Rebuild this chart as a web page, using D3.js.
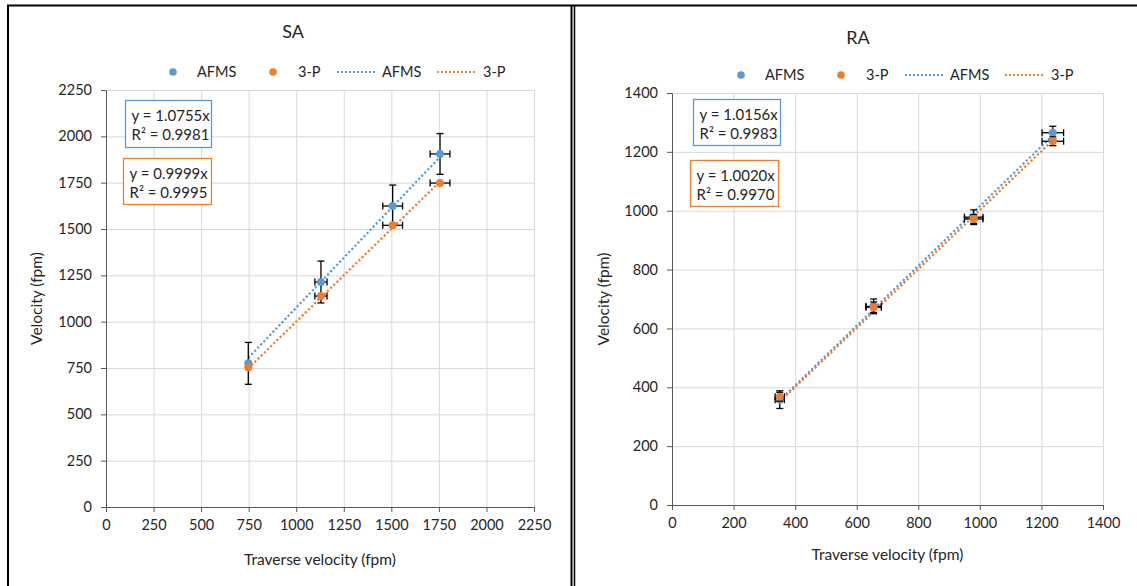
<!DOCTYPE html>
<html>
<head>
<meta charset="utf-8">
<script src="https://cdn.jsdelivr.net/npm/d3@7"></script>
<style>
  body { margin: 0; background: #fff; }
  svg { display: block; font-family: Lato, "Open Sans", sans-serif; }
</style>
</head>
<body>
<svg id="chart"></svg>
<script>
var width = 1137;
var height = 586;

// SA panel data
var saTicks = [0, 250, 500, 750, 1000, 1250, 1500, 1750, 2000, 2250];
var saX = [748, 1130, 1507, 1756];
var saXErr = [5, 32, 52, 52];
var saAfms = [775, 1214, 1624, 1905];
var saAfmsErr = [113, 113, 113, 110];
var sa3p = [754, 1138, 1520, 1748];
var sa3pErr = [0, 0, 0, 0];
var saSlopes = [1.0755, 0.9999];
var saR2 = [0.9981, 0.9995];

// RA panel data
var raTicks = [0, 200, 400, 600, 800, 1000, 1200, 1400];
var raX = [350, 655, 980, 1237];
var raXErr = [15, 25, 30, 35];
var raAfms = [358, 675, 978, 1265];
var raAfmsErr = [30, 25, 25, 22];
var ra3p = [368, 672, 972, 1236];
var ra3pErr = [15, 18, 15, 15];
var raSlopes = [1.0156, 1.0020];
var raR2 = [0.9983, 0.9970];

var blue = "#5B9BD5";
var orange = "#ED7D31";
var textColor = "#262626";

var svg = d3.select("#chart")
    .attr("width", width)
    .attr("height", height);

svg.append("rect")
    .attr("width", width)
    .attr("height", height)
    .attr("fill", "#fff");

// panel frames
svg.append("line").attr("x1", 7).attr("x2", width).attr("y1", 5.5).attr("y2", 5.5)
    .attr("stroke", "#000").attr("stroke-width", 2);
svg.append("line").attr("x1", 8).attr("x2", 8).attr("y1", 5).attr("y2", height)
    .attr("stroke", "#000").attr("stroke-width", 2);
svg.append("line").attr("x1", 571.5).attr("x2", 571.5).attr("y1", 5).attr("y2", height)
    .attr("stroke", "#000").attr("stroke-width", 2);
svg.append("line").attr("x1", 574.5).attr("x2", 574.5).attr("y1", 5).attr("y2", height)
    .attr("stroke", "#000").attr("stroke-width", 1.5);

function drawChart(c) {
    var g = svg.append("g");

    var xScale = d3.scaleLinear()
        .domain([0, c.ticks[c.ticks.length - 1]])
        .range([c.left, c.right]);
    var yScale = d3.scaleLinear()
        .domain([0, c.ticks[c.ticks.length - 1]])
        .range([c.bottom, c.top]);

    // grid
    g.append("g")
        .attr("transform", "translate(0," + c.bottom + ")")
        .call(d3.axisBottom(xScale).tickValues(c.ticks).tickSize(-(c.bottom - c.top)).tickFormat(""))
        .call(s => s.select(".domain").remove())
        .selectAll("line").attr("stroke", "#d9d9d9");
    g.append("g")
        .attr("transform", "translate(" + c.left + ",0)")
        .call(d3.axisLeft(yScale).tickValues(c.ticks).tickSize(-(c.right - c.left)).tickFormat(""))
        .call(s => s.select(".domain").remove())
        .selectAll("line").attr("stroke", "#d9d9d9");

    // axes
    var fmt = d3.format("d");
    var xAxis = g.append("g")
        .attr("transform", "translate(0," + c.bottom + ")")
        .call(d3.axisBottom(xScale).tickValues(c.ticks).tickFormat(fmt).tickSize(5).tickSizeOuter(0).tickPadding(8));
    var yAxis = g.append("g")
        .attr("transform", "translate(" + c.left + ",0)")
        .call(d3.axisLeft(yScale).tickValues(c.ticks).tickFormat(fmt).tickSize(5).tickSizeOuter(0).tickPadding(9));
    [xAxis, yAxis].forEach(function(a) {
        a.select(".domain").attr("stroke", "#595959");
        a.selectAll(".tick line").attr("stroke", "#595959");
        a.selectAll("text")
            .attr("fill", textColor)
            .style("font-size", "14.5px")
            .style("font-family", "Lato, sans-serif");
    });

    // titles
    g.append("text")
        .attr("x", c.titleX).attr("y", c.titleY)
        .attr("text-anchor", "middle")
        .attr("fill", textColor)
        .style("font-size", "18px")
        .text(c.title);
    g.append("text")
        .attr("x", (c.left + c.right) / 2).attr("y", c.xTitleY)
        .attr("text-anchor", "middle")
        .attr("fill", textColor)
        .style("font-size", "15.5px")
        .text("Traverse velocity (fpm)");
    g.append("text")
        .attr("transform", "rotate(-90)")
        .attr("x", -(c.top + c.bottom) / 2).attr("y", c.yTitleX)
        .attr("text-anchor", "middle")
        .attr("fill", textColor)
        .style("font-size", "15.5px")
        .text("Velocity (fpm)");

    // legend
    var lg = g.append("g").attr("transform", "translate(" + c.legendX + "," + c.legendY + ")");
    var items = [
        {type: "dot", color: blue, label: "AFMS", x: 0, tx: 24},
        {type: "dot", color: orange, label: "3-P", x: 100, tx: 125},
        {type: "line", color: blue, label: "AFMS", x: 164, tx: 209},
        {type: "line", color: orange, label: "3-P", x: 264, tx: 310}
    ];
    items.forEach(function(it) {
        if (it.type === "dot") {
            lg.append("circle").attr("cx", it.x).attr("cy", 0).attr("r", 3.8).attr("fill", it.color);
        } else {
            lg.append("line").attr("x1", it.x).attr("x2", it.x + 38).attr("y1", 0).attr("y2", 0)
                .attr("stroke", it.color).attr("stroke-width", 2).attr("stroke-dasharray", "2 2");
        }
        lg.append("text").attr("x", it.tx).attr("y", 5)
            .attr("fill", textColor).style("font-size", "14.5px").text(it.label);
    });

    // trendlines (fit through origin, drawn over data range)
    var xMin = d3.min(c.x), xMax = d3.max(c.x);
    var series = [
        {y: c.afms, yErr: c.afmsErr, color: blue, slope: c.slopes[0]},
        {y: c.threeP, yErr: c.threePErr, color: orange, slope: c.slopes[1]}
    ];
    series.forEach(function(s) {
        g.append("line")
            .attr("x1", xScale(xMin)).attr("y1", yScale(s.slope * xMin))
            .attr("x2", xScale(xMax)).attr("y2", yScale(s.slope * xMax))
            .attr("stroke", s.color).attr("stroke-width", 2.2)
            .attr("stroke-dasharray", "2.2 2.2");
    });

    // error bars + points
    var cap = 3.5;
    series.forEach(function(s) {
        var eb = g.append("g").attr("stroke", "#000").attr("stroke-width", 1.3);
        c.x.forEach(function(xv, i) {
            var px = xScale(xv), py = yScale(s.y[i]);
            if (s.yErr[i] > 0) {
                var y1 = yScale(s.y[i] + s.yErr[i]), y2 = yScale(s.y[i] - s.yErr[i]);
                eb.append("line").attr("x1", px).attr("x2", px).attr("y1", y1).attr("y2", y2);
                eb.append("line").attr("x1", px - cap).attr("x2", px + cap).attr("y1", y1).attr("y2", y1);
                eb.append("line").attr("x1", px - cap).attr("x2", px + cap).attr("y1", y2).attr("y2", y2);
            }
            var x1 = xScale(xv - c.xErr[i]), x2 = xScale(xv + c.xErr[i]);
            eb.append("line").attr("x1", x1).attr("x2", x2).attr("y1", py).attr("y2", py);
            eb.append("line").attr("x1", x1).attr("x2", x1).attr("y1", py - cap).attr("y2", py + cap);
            eb.append("line").attr("x1", x2).attr("x2", x2).attr("y1", py - cap).attr("y2", py + cap);
        });
        g.append("g").selectAll("circle")
            .data(c.x)
            .enter()
            .append("circle")
            .attr("cx", d => xScale(d))
            .attr("cy", (d, i) => yScale(s.y[i]))
            .attr("r", 4)
            .attr("fill", s.color);
    });

    // equation boxes
    c.boxes.forEach(function(b, i) {
        g.append("rect")
            .attr("x", b.x).attr("y", b.y).attr("width", b.w).attr("height", b.h)
            .attr("fill", "#fff")
            .attr("stroke", i === 0 ? blue : orange).attr("stroke-width", 1.3);
        var t = g.append("text").attr("fill", textColor).style("font-size", "15px");
        t.append("tspan").attr("x", b.x + 6).attr("y", b.y + 20)
            .text("y = " + c.slopes[i].toFixed(4) + "x");
        t.append("tspan").attr("x", b.x + 6).attr("y", b.y + 39)
            .text("R\u00B2 = " + c.r2[i].toFixed(4));
    });
}

drawChart({
    title: "SA", titleX: 293, titleY: 38,
    ticks: saTicks, x: saX, xErr: saXErr,
    afms: saAfms, afmsErr: saAfmsErr, threeP: sa3p, threePErr: sa3pErr,
    slopes: saSlopes, r2: saR2,
    left: 106, right: 534, top: 90, bottom: 507,
    xTitleY: 565, yTitleX: 42,
    legendX: 173, legendY: 72,
    boxes: [{x: 125.5, y: 100.5, w: 86, h: 47}, {x: 123.5, y: 158.5, w: 88, h: 46}]
});

drawChart({
    title: "RA", titleX: 858, titleY: 44,
    ticks: raTicks, x: raX, xErr: raXErr,
    afms: raAfms, afmsErr: raAfmsErr, threeP: ra3p, threePErr: ra3pErr,
    slopes: raSlopes, r2: raR2,
    left: 672, right: 1103, top: 93, bottom: 505,
    xTitleY: 560, yTitleX: 609,
    legendX: 741, legendY: 75,
    boxes: [{x: 693.5, y: 99.5, w: 87, h: 46}, {x: 690.5, y: 160.5, w: 88, h: 46}]
});
</script>
</body>
</html>
